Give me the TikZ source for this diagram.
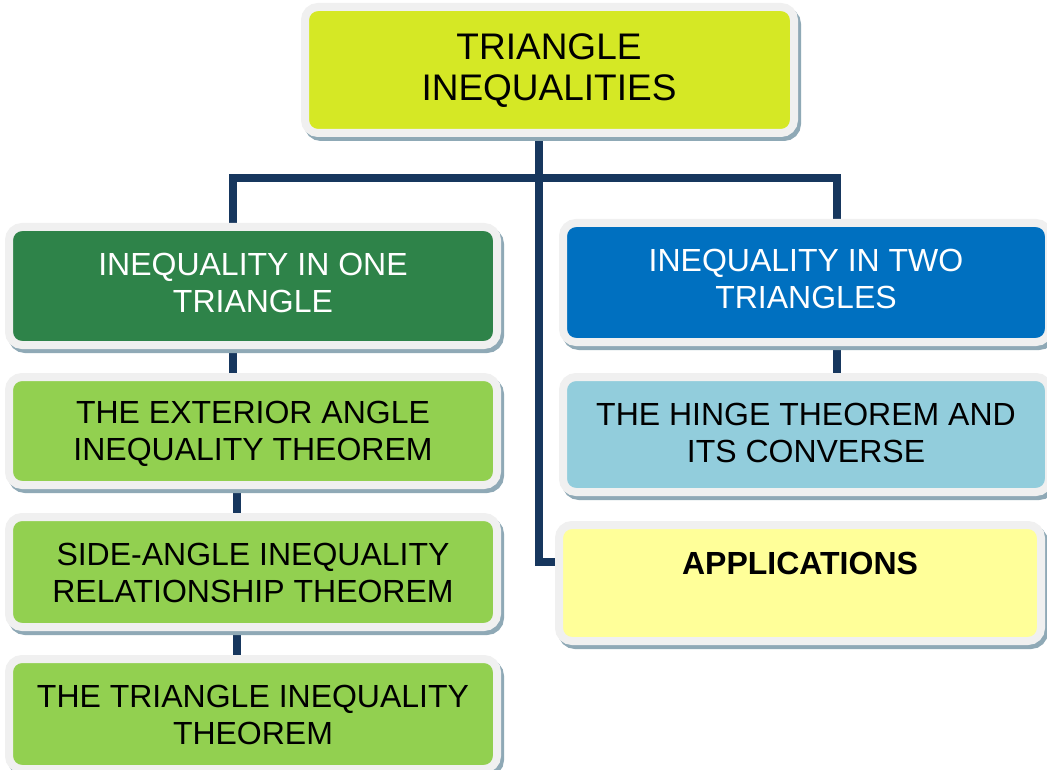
\documentclass[tikz,border=0pt]{standalone}
\usepackage{fontspec}
\setmainfont{Liberation Sans}
\pgfdeclarelayer{bg}
\pgfsetlayers{bg,main}
\definecolor{topc}{HTML}{D5E825}
\definecolor{dgreen}{HTML}{2E8349}
\definecolor{lgreen}{HTML}{92D050}
\definecolor{dblue}{HTML}{0070C0}
\definecolor{lblue}{HTML}{92CDDC}
\definecolor{lyellow}{HTML}{FFFF99}
\definecolor{connc}{HTML}{17375E}
\definecolor{framec}{HTML}{F0F0F0}
\definecolor{shadc}{HTML}{8FA9B6}
\tikzset{
  box/.style={draw=framec, line width=8pt, rounded corners=13pt, inner sep=0pt,
    preaction={draw=shadc, fill=shadc, line width=8pt, transform canvas={shift={(3pt,-4pt)}}}},
  txt/.style={font=\fontsize{32}{37}\selectfont, align=center, inner sep=0pt},
  conn/.style={draw=connc, line width=8pt, line join=miter}
}
\begin{document}
\begin{tikzpicture}[x=1pt,y=-1pt]
\useasboundingbox (0,0) rectangle (1047,770);
\clip (0,0) rectangle (1047,770);
% boxes
\node[box, fill=topc, minimum width=489pt, minimum height=126pt] (top) at (549.5,70) {};
\node[box, fill=dgreen, minimum width=488pt, minimum height=118pt] (b1) at (253,286) {};
\node[box, fill=lgreen, minimum width=488pt, minimum height=108pt] (b2) at (253,431) {};
\node[box, fill=lgreen, minimum width=488pt, minimum height=110pt] (b3) at (253,572) {};
\node[box, fill=lgreen, minimum width=488pt, minimum height=110pt] (b4) at (253,714) {};
\node[box, fill=dblue, minimum width=486pt, minimum height=119pt] (r1) at (806,282.5) {};
\node[box, fill=lblue, minimum width=486pt, minimum height=115pt] (r2) at (806,434.5) {};
\node[box, fill=lyellow, minimum width=482pt, minimum height=116pt] (app) at (800,583) {};
% texts
\node[txt, font=\fontsize{37}{41}\selectfont] (topt) at (549,71) {TRIANGLE\\INEQUALITIES};
\node[txt, text=white] (b1t) at (253,283) {INEQUALITY IN ONE\\TRIANGLE};
\node[txt] (b2t) at (253,434) {THE EXTERIOR ANGLE\\INEQUALITY THEOREM};
\node[txt] (b3t) at (253,573) {SIDE-ANGLE INEQUALITY\\RELATIONSHIP THEOREM};
\node[txt] (b4t) at (253,715) {THE TRIANGLE INEQUALITY\\THEOREM};
\node[txt, text=white] (r1t) at (806,278.5) {INEQUALITY IN TWO\\TRIANGLES};
\node[txt] (r2t) at (806,433) {THE HINGE THEOREM AND\\ITS CONVERSE};
\node[txt, font=\fontsize{32}{37}\selectfont\bfseries] (appt) at (800,563.5) {APPLICATIONS};
% connectors
\coordinate (jl) at (233,178);
\coordinate (jr) at (837,178);
\coordinate (cl) at (237,0);
\begin{pgfonlayer}{bg}
\fill[white] (0,0) rectangle (1047,770);
\draw[conn] ([xshift=-10.5pt]top.south) |- ([yshift=21pt]app.west);
\draw[conn] (b1.north -| jl) -- (jl) -- (jr) -- (r1.north -| jr);
\draw[conn] (b1.south -| jl) -- (b2.north -| jl);
\draw[conn] (b2.south -| cl) -- (b3.north -| cl);
\draw[conn] (b3.south -| cl) -- (b4.north -| cl);
\draw[conn] (r1.south -| jr) -- (r2.north -| jr);
\end{pgfonlayer}
\end{tikzpicture}
\end{document}
